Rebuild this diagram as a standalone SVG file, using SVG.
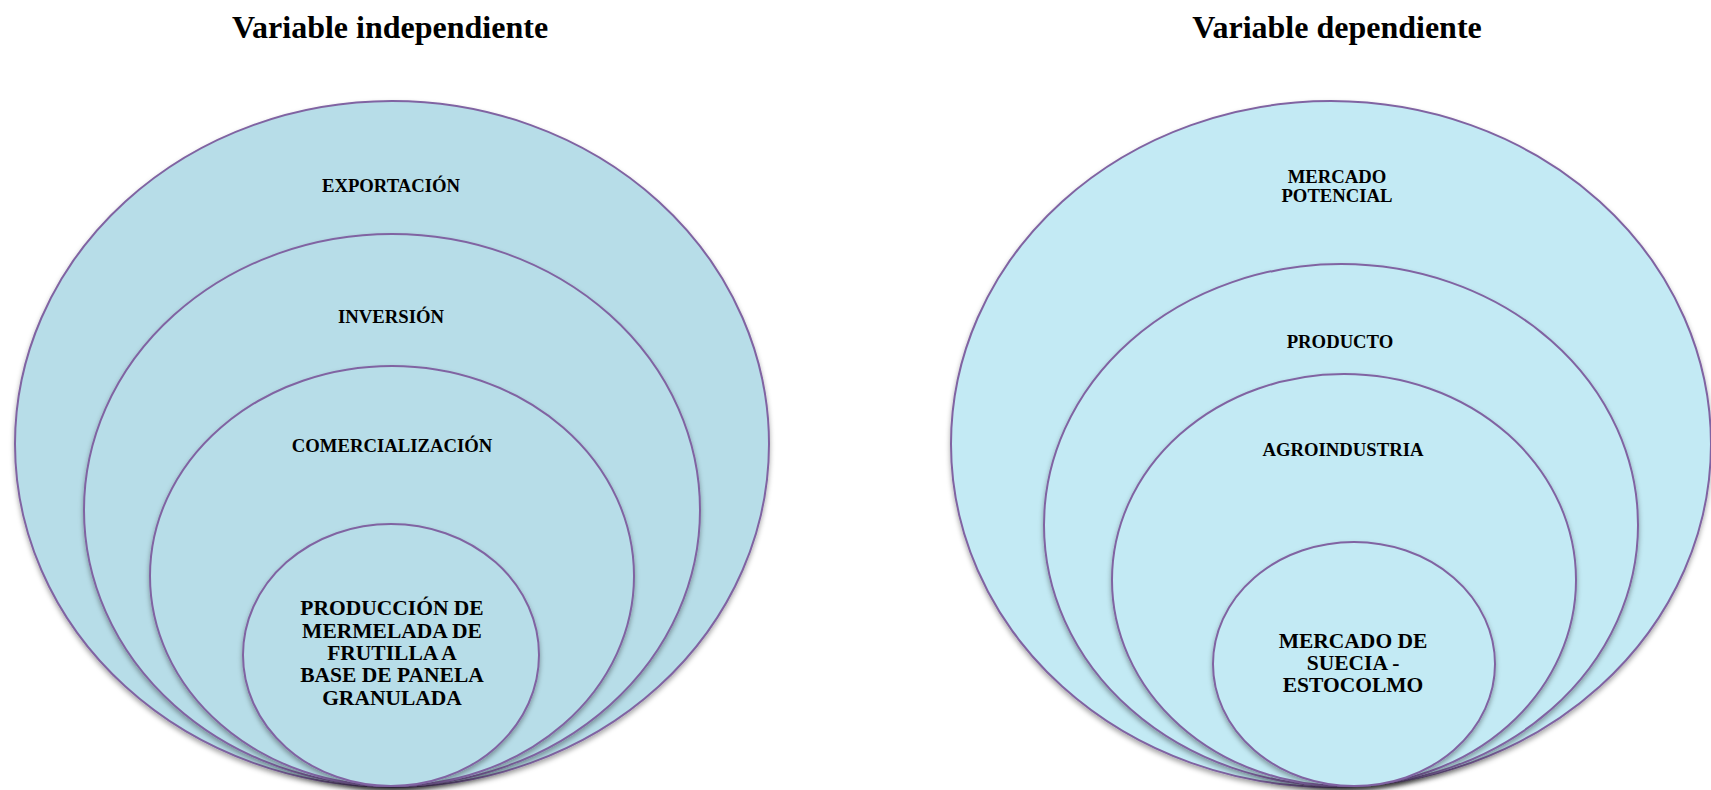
<svg xmlns="http://www.w3.org/2000/svg" width="1711" height="790" viewBox="0 0 1711 790">
  <style>
    .title { font-family: "Liberation Serif", "Times New Roman", serif; font-weight: bold; font-size: 32px; fill: #000; text-anchor: middle; }
    .lbl { font-family: "Liberation Serif", "Times New Roman", serif; font-weight: bold; font-size: 18.7px; fill: #000; text-anchor: middle; }
    .big { font-family: "Liberation Serif", "Times New Roman", serif; font-weight: bold; font-size: 21.5px; fill: #000; text-anchor: middle; }
    .l { fill: #b7dde8; stroke: #8064a2; stroke-width: 2; filter: url(#sh); }
    .r { fill: #c3eaf4; stroke: #8064a2; stroke-width: 2; filter: url(#sh); }
  </style>
  <defs>
    <filter id="sh" x="-10%" y="-10%" width="120%" height="125%">
      <feDropShadow dx="0" dy="3" stdDeviation="2.5" flood-color="#000" flood-opacity="0.35"/>
    </filter>
  </defs>
  <rect width="1711" height="790" fill="#fff"/>
  <text class="title" x="390" y="38">Variable independiente</text>
  <text class="title" x="1337" y="38">Variable dependiente</text>

  <g id="exportacion">
    <ellipse class="l" cx="392" cy="444" rx="377" ry="343"/>
    <text class="lbl" x="391" y="192">EXPORTACIÓN</text>
  </g>
  <g id="inversion">
    <ellipse class="l" cx="392" cy="510" rx="308" ry="276"/>
    <text class="lbl" x="391" y="323">INVERSIÓN</text>
  </g>
  <g id="comercializacion">
    <ellipse class="l" cx="392" cy="576" rx="242" ry="210"/>
    <text class="lbl" x="392" y="452">COMERCIALIZACIÓN</text>
  </g>
  <g id="produccion">
    <ellipse class="l" cx="391" cy="655" rx="148" ry="131"/>
    <text class="big" x="392" y="615">PRODUCCIÓN DE</text>
    <text class="big" x="392" y="638">MERMELADA DE</text>
    <text class="big" x="392" y="660">FRUTILLA A</text>
    <text class="big" x="392" y="682">BASE DE PANELA</text>
    <text class="big" x="392" y="705">GRANULADA</text>
  </g>

  <g id="mercado-potencial">
    <ellipse class="r" cx="1331" cy="444" rx="380" ry="343"/>
    <text class="lbl" x="1337" y="183">MERCADO</text>
    <text class="lbl" x="1337" y="202">POTENCIAL</text>
  </g>
  <g id="producto">
    <ellipse class="r" cx="1341" cy="525" rx="297" ry="261"/>
    <text class="lbl" x="1340" y="348">PRODUCTO</text>
  </g>
  <g id="agroindustria">
    <ellipse class="r" cx="1344" cy="580" rx="232" ry="206"/>
    <text class="lbl" x="1343" y="456">AGROINDUSTRIA</text>
  </g>
  <g id="mercado-suecia">
    <ellipse class="r" cx="1354" cy="664" rx="141" ry="122"/>
    <text class="big" x="1353" y="648">MERCADO DE</text>
    <text class="big" x="1353" y="670">SUECIA -</text>
    <text class="big" x="1353" y="692">ESTOCOLMO</text>
  </g>
  <g id="connectors"></g>
</svg>
